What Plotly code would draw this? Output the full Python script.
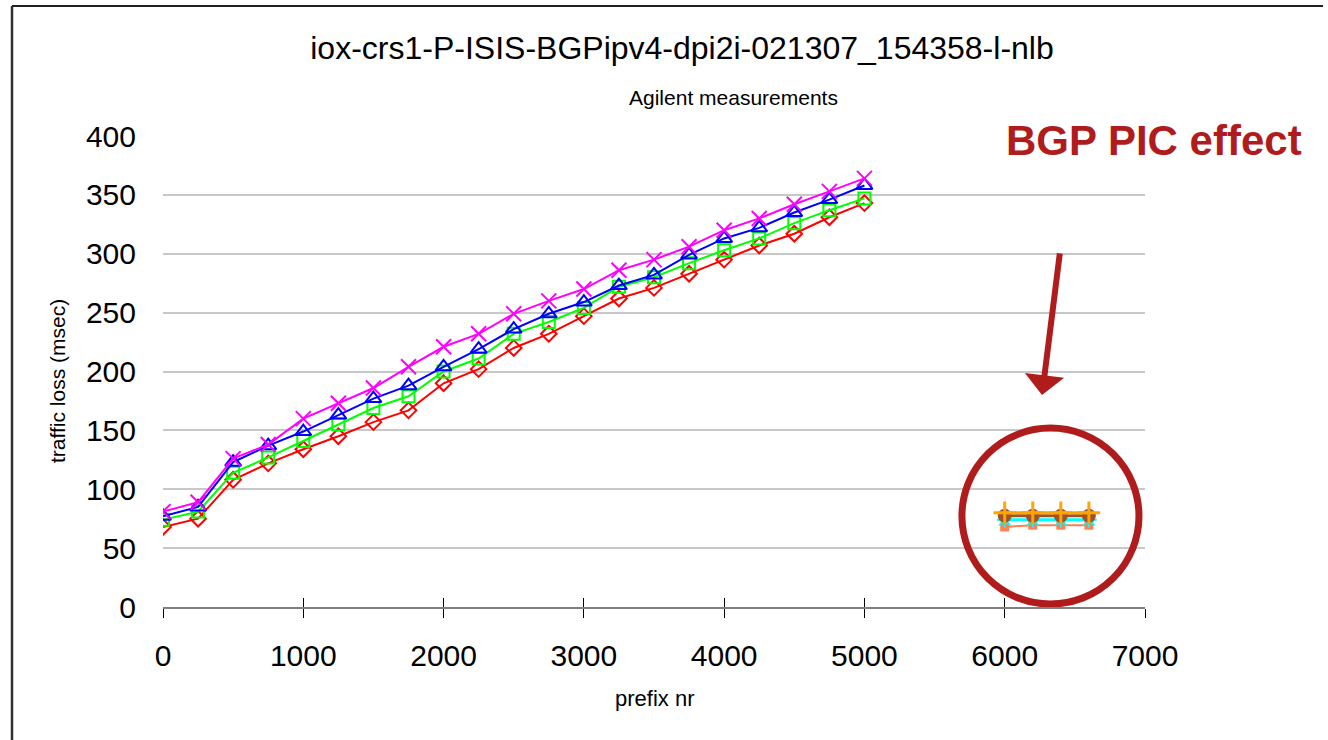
import plotly.graph_objects as go

prefix_nr = [0, 250, 500, 750, 1000, 1250, 1500, 1750, 2000, 2250, 2500,
             2750, 3000, 3250, 3500, 3750, 4000, 4250, 4500, 4750, 5000]

loss_red = [68, 75, 108, 122, 134, 145, 157, 167, 190, 202, 220,
            232, 247, 262, 271, 283, 295, 307, 317, 331, 343]
loss_green = [74, 81, 114, 127, 141, 155, 169, 179, 200, 211, 232,
              242, 254, 272, 280, 292, 303, 313, 326, 337, 347]
loss_blue = [77, 85, 123, 137, 149, 163, 177, 188, 204, 219, 236,
             249, 259, 273, 282, 299, 313, 322, 335, 346, 358]
loss_magenta = [81, 89, 126, 138, 160, 173, 186, 204, 221, 232, 249,
                260, 270, 286, 295, 306, 320, 330, 342, 353, 364]

pic_prefix_nr = [6000, 6200, 6400, 6600]
pic_orange = [80, 80, 80, 80]
pic_brown = [77.5, 77.5, 77.5, 77.5]
pic_cyan = [74, 74, 74, 74]
pic_salmon = [68, 69.5, 69.5, 69.5]

x_ticks = [0, 1000, 2000, 3000, 4000, 5000, 6000, 7000]
y_ticks = [0, 50, 100, 150, 200, 250, 300, 350, 400]

FONT = "Liberation Sans, Arial, sans-serif"
DARKRED = "#B01C1C"

fig = go.Figure()

def add_series(xs, ys, color, symbol, size, lw=2, mlw=2):
    fig.add_trace(go.Scatter(
        x=xs, y=ys, mode="lines+markers",
        line=dict(color=color, width=lw),
        marker=dict(symbol=symbol, size=size, color=color,
                    line=dict(color=color, width=mlw)),
        showlegend=False, hoverinfo="x+y"))

add_series(prefix_nr, loss_red, "#FF0000", "diamond-open", 12)
add_series(prefix_nr, loss_green, "#00FF00", "square-open", 12)
add_series(prefix_nr, loss_blue, "#0000FF", "triangle-up-open", 14)
add_series(prefix_nr, loss_magenta, "#FF00FF", "x-thin-open", 15)

add_series(pic_prefix_nr, pic_salmon, "#FF7F50", "square", 9, lw=2, mlw=0)
add_series(pic_prefix_nr, pic_cyan, "#00FFFF", "asterisk-open", 13, lw=3, mlw=2)
add_series(pic_prefix_nr, pic_brown, "#A0522D", "circle", 14, lw=3, mlw=0)
add_series(pic_prefix_nr, pic_orange, "#FFA500", "cross-thin-open", 16, lw=3, mlw=3)

# invisible trace on the overlay axis so its (inside) ticks render
fig.add_trace(go.Scatter(x=[x_ticks[0], x_ticks[-1]], y=[0, 0], xaxis="x2",
                         mode="none", showlegend=False, hoverinfo="skip"))

fig.update_layout(
    width=1328, height=740,
    margin=dict(l=163, r=183, t=136, b=133),
    paper_bgcolor="white", plot_bgcolor="white",
    font=dict(family=FONT, color="black"),
    title=dict(text="iox-crs1-P-ISIS-BGPipv4-dpi2i-021307_154358-l-nlb",
               x=682 / 1328, xanchor="center", y=1 - 48 / 740, yanchor="middle",
               font=dict(size=32, family=FONT, color="black")),
    xaxis=dict(range=[x_ticks[0], x_ticks[-1]], tickvals=x_ticks,
               ticks="outside", ticklen=9, tickcolor="black", tickwidth=1,
               showline=True, linecolor="#808080", linewidth=2,
               showgrid=False, zeroline=False,
               tickfont=dict(size=30, family=FONT, color="black"),
               ticklabelstandoff=12),
    xaxis2=dict(range=[x_ticks[0], x_ticks[-1]], tickvals=x_ticks, overlaying="x",
                ticks="inside", ticklen=9, tickcolor="black", tickwidth=1,
                showticklabels=False, showline=False, showgrid=False,
                zeroline=False, side="bottom"),
    yaxis=dict(range=[y_ticks[0], y_ticks[-1]], tickvals=y_ticks,
               showline=False, ticks="", showgrid=True,
               gridcolor="#C8C8C8", gridwidth=1.5, zeroline=False,
               tickfont=dict(size=30, family=FONT, color="black"),
               ticklabelstandoff=26),
)

def px2paper_x(px):
    return (px - 163) / 982.0

def px2paper_y(py):
    return (607 - py) / 471.0

annotations = [
    dict(text="Agilent measurements", x=px2paper_x(733), y=px2paper_y(97),
         xref="paper", yref="paper", showarrow=False,
         font=dict(size=21, family=FONT, color="black"),
         xanchor="center", yanchor="middle"),
    dict(text="traffic loss (msec)", x=px2paper_x(57), y=px2paper_y(381),
         xref="paper", yref="paper", showarrow=False, textangle=-90,
         font=dict(size=21, family=FONT, color="black"),
         xanchor="center", yanchor="middle"),
    dict(text="prefix nr", x=px2paper_x(654), y=px2paper_y(698),
         xref="paper", yref="paper", showarrow=False,
         font=dict(size=22, family=FONT, color="black"),
         xanchor="center", yanchor="middle"),
    dict(text="<b>BGP PIC effect</b>", x=px2paper_x(1154), y=px2paper_y(140),
         xref="paper", yref="paper", showarrow=False, bgcolor="white",
         font=dict(size=42, family=FONT, color=DARKRED),
         xanchor="center", yanchor="middle"),
    dict(text="", x=6266, y=180, xref="x", yref="y",
         ax=6394, ay=301.5, axref="x", ayref="y",
         showarrow=True, arrowhead=1, arrowsize=1.1, arrowwidth=6,
         arrowcolor=DARKRED),
]
fig.update_layout(annotations=annotations)

shapes = [
    dict(type="circle", xref="x", yref="y", x0=5695, x1=6957, y0=2.5, y1=152,
         line=dict(color=DARKRED, width=7), layer="above"),
    dict(type="line", xref="paper", yref="paper",
         x0=px2paper_x(12), x1=px2paper_x(1323), y0=px2paper_y(6), y1=px2paper_y(6),
         line=dict(color="#202020", width=2)),
    dict(type="line", xref="paper", yref="paper",
         x0=px2paper_x(12), x1=px2paper_x(12), y0=px2paper_y(6), y1=px2paper_y(745),
         line=dict(color="#303030", width=2.5)),
]
fig.update_layout(shapes=shapes)

fig.write_html("out.html", config={"displayModeBar": False},
               post_script="document.body.style.margin='0';")
